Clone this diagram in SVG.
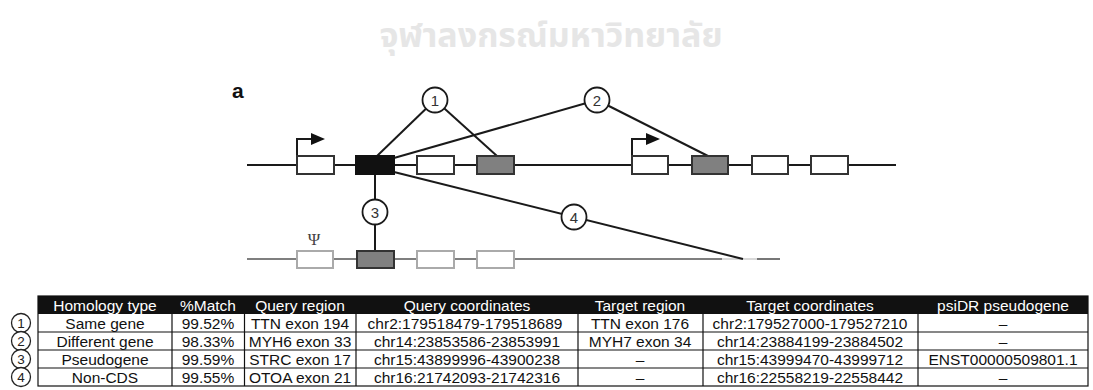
<svg xmlns="http://www.w3.org/2000/svg" width="1093" height="390" viewBox="0 0 1093 390">
<style>
.bg{fill:#fff}
.wm{font-family:"Noto Sans Thai","Noto Sans","DejaVu Sans",sans-serif;font-size:34px;font-weight:bold;fill:#e6e6e6}
.ln{stroke:#1a1a1a;stroke-width:2;fill:none}
.ln2{stroke:#555;stroke-width:1.6;fill:none}
.ex{fill:#fff;stroke:#333;stroke-width:2}
.exb{fill:#111;stroke:#111;stroke-width:2}
.exg{fill:#808080;stroke:#333;stroke-width:2}
.exl{fill:#fff;stroke:#aaa;stroke-width:2}
.cir{fill:#fff;stroke:#1a1a1a;stroke-width:1.8}
.num{font-family:"Liberation Sans",Arial,sans-serif;font-size:15px;fill:#333;text-anchor:middle}
.lab{font-family:"Liberation Sans",Arial,sans-serif;font-size:21px;font-weight:bold;fill:#111}
.psi{font-family:"Liberation Serif",serif;font-size:17px;fill:#444;text-anchor:middle}
.th{font-family:"Liberation Sans",Arial,sans-serif;font-size:15.5px;fill:#fff;text-anchor:middle}
.td{font-family:"Liberation Sans",Arial,sans-serif;font-size:15.5px;fill:#111;text-anchor:middle}
.grid{stroke:#111;stroke-width:1.2;fill:none}
.rc{fill:#fff;stroke:#222;stroke-width:1.3}
.rn{font-family:"Liberation Sans",Arial,sans-serif;font-size:13.5px;fill:#222;text-anchor:middle}
</style>
<rect class="bg" x="0" y="0" width="1093" height="390"/>
<text class="wm" x="551" y="47" text-anchor="middle">จุฬาลงกรณ์มหาวิทยาลัย</text>

<text class="lab" x="232" y="98">a</text>

<g id="backbones">
<line class="ln" x1="247" y1="165" x2="896" y2="165"/>
<line class="ln2" x1="247" y1="259" x2="722" y2="259"/>
<line x1="722" y1="259" x2="757" y2="259" stroke="#ccc" stroke-width="1.6"/>
<line class="ln2" x1="757" y1="259" x2="780" y2="259"/>
</g>

<g id="connectors">
<line class="ln" x1="377" y1="156" x2="435" y2="100"/>
<line class="ln" x1="435" y1="100" x2="497" y2="156"/>
<line class="ln" x1="394" y1="158" x2="597" y2="100"/>
<line class="ln" x1="597" y1="100" x2="708" y2="156"/>
<line class="ln" x1="375" y1="174" x2="375" y2="251"/>
<line class="ln" x1="394" y1="172" x2="743" y2="259"/>
<path class="ln" d="M297,156 V139 H313"/>
<polygon points="311,133 325,139 311,145" fill="#111"/>
<path class="ln" d="M632,156 V139 H648"/>
<polygon points="646,133 660,139 646,145" fill="#111"/>
</g>

<g id="gene1">
<rect class="ex" x="297" y="156" width="37" height="18"/>
<rect class="exb" x="356" y="156" width="38" height="18"/>
<rect class="ex" x="417" y="156" width="37" height="18"/>
<rect class="exg" x="477" y="156" width="37" height="18"/>
</g>
<g id="gene2">
<rect class="ex" x="632" y="156" width="36" height="18"/>
<rect class="exg" x="692" y="156" width="36" height="18"/>
<rect class="ex" x="752" y="156" width="36" height="18"/>
<rect class="ex" x="811" y="156" width="37" height="18"/>
</g>
<g id="pseudogene">
<text class="psi" x="314" y="245">Ψ</text>
<rect class="exl" x="297" y="251" width="36" height="17"/>
<rect class="exg" x="357" y="251" width="37" height="17"/>
<rect class="exl" x="417" y="251" width="37" height="17"/>
<rect class="exl" x="477" y="251" width="37" height="17"/>
</g>

<g id="c1"><circle class="cir" cx="435" cy="100" r="12.5"/><text class="num" x="435" y="105.5">1</text></g>
<g id="c2"><circle class="cir" cx="597" cy="100" r="12.5"/><text class="num" x="597" y="105.5">2</text></g>
<g id="c3"><circle class="cir" cx="375" cy="212" r="12.5"/><text class="num" x="375" y="217.5">3</text></g>
<g id="c4"><circle class="cir" cx="574" cy="217" r="12.5"/><text class="num" x="574" y="222.5">4</text></g>

<g id="table">
<rect x="38" y="296" width="1050" height="18" fill="#111"/>
<rect class="grid" x="38" y="296" width="1050" height="90"/>
<line class="grid" x1="38" y1="332" x2="1088" y2="332"/>
<line class="grid" x1="38" y1="350" x2="1088" y2="350"/>
<line class="grid" x1="38" y1="368" x2="1088" y2="368"/>
<g stroke="#111" stroke-width="1.2">
<line x1="172" y1="314" x2="172" y2="386"/>
<line x1="244.5" y1="314" x2="244.5" y2="386"/>
<line x1="356" y1="314" x2="356" y2="386"/>
<line x1="578" y1="314" x2="578" y2="386"/>
<line x1="703" y1="314" x2="703" y2="386"/>
<line x1="918" y1="314" x2="918" y2="386"/>
</g>
<text class="th" x="105" y="310.5">Homology type</text>
<text class="th" x="208" y="310.5">%Match</text>
<text class="th" x="300" y="310.5">Query region</text>
<text class="th" x="467" y="310.5">Query coordinates</text>
<text class="th" x="640" y="310.5">Target region</text>
<text class="th" x="810" y="310.5">Target coordinates</text>
<text class="th" x="1003" y="310.5">psiDR pseudogene</text>

<text class="td" x="105" y="328.5">Same gene</text>
<text class="td" x="208" y="328.5">99.52%</text>
<text class="td" x="300" y="328.5">TTN exon 194</text>
<text class="td" x="465" y="328.5">chr2:179518479-179518689</text>
<text class="td" x="640" y="328.5">TTN exon 176</text>
<text class="td" x="810" y="328.5">chr2:179527000-179527210</text>
<text class="td" x="1003" y="328.5">–</text>

<text class="td" x="105" y="346.5">Different gene</text>
<text class="td" x="208" y="346.5">98.33%</text>
<text class="td" x="300" y="346.5">MYH6 exon 33</text>
<text class="td" x="467" y="346.5">chr14:23853586-23853991</text>
<text class="td" x="640" y="346.5">MYH7 exon 34</text>
<text class="td" x="810" y="346.5">chr14:23884199-23884502</text>
<text class="td" x="1003" y="346.5">–</text>

<text class="td" x="105" y="364.5">Pseudogene</text>
<text class="td" x="208" y="364.5">99.59%</text>
<text class="td" x="300" y="364.5">STRC exon 17</text>
<text class="td" x="467" y="364.5">chr15:43899996-43900238</text>
<text class="td" x="640" y="364.5">–</text>
<text class="td" x="810" y="364.5">chr15:43999470-43999712</text>
<text class="td" x="1003" y="364.5">ENST00000509801.1</text>

<text class="td" x="105" y="382.5">Non-CDS</text>
<text class="td" x="208" y="382.5">99.55%</text>
<text class="td" x="300" y="382.5">OTOA exon 21</text>
<text class="td" x="467" y="382.5">chr16:21742093-21742316</text>
<text class="td" x="640" y="382.5">–</text>
<text class="td" x="810" y="382.5">chr16:22558219-22558442</text>
<text class="td" x="1003" y="382.5">–</text>
</g>

<g id="rowlabels">
<g id="r1"><circle class="rc" cx="21" cy="323" r="9.5"/><text class="rn" x="21" y="328">1</text></g>
<g id="r2"><circle class="rc" cx="21" cy="341" r="9.5"/><text class="rn" x="21" y="346">2</text></g>
<g id="r3"><circle class="rc" cx="21" cy="359" r="9.5"/><text class="rn" x="21" y="364">3</text></g>
<g id="r4"><circle class="rc" cx="21" cy="377" r="9.5"/><text class="rn" x="21" y="382">4</text></g>
</g>
</svg>
